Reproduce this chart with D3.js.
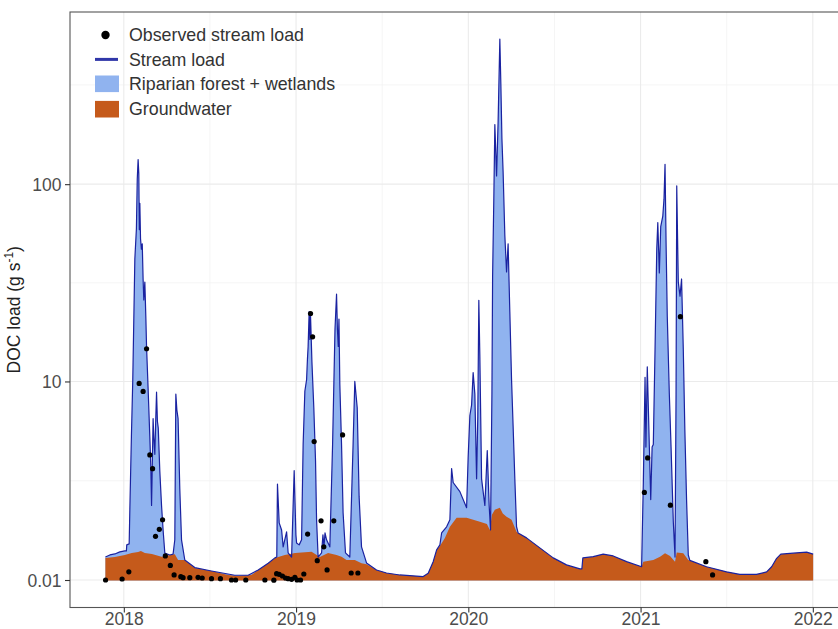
<!DOCTYPE html>
<html>
<head>
<meta charset="utf-8">
<script src="https://cdn.jsdelivr.net/npm/d3@7/dist/d3.min.js"></script>
<style>
  body { margin: 0; background: #fff; }
  svg text { font-family: "Liberation Sans", Arial, Helvetica, sans-serif; }
</style>
</head>
<body>
<div id="chart"></div>
<script>
// time in decimal years, loads in g/s

const streamYear = [2017.893, 2017.919, 2017.948, 2017.977, 2018.006, 2018.015, 2018.017, 2018.031, 2018.035, 2018.044,
  2018.052, 2018.064, 2018.073, 2018.078, 2018.083, 2018.087, 2018.09, 2018.093, 2018.097, 2018.102,
  2018.107, 2018.112, 2018.116, 2018.122, 2018.128, 2018.132, 2018.141, 2018.151, 2018.157, 2018.161,
  2018.165, 2018.17, 2018.174, 2018.18, 2018.186, 2018.19, 2018.195, 2018.2, 2018.209, 2018.219,
  2018.228, 2018.238, 2018.267, 2018.286, 2018.296, 2018.302, 2018.308, 2018.315, 2018.325, 2018.335,
  2018.354, 2018.412, 2018.509, 2018.644, 2018.722, 2018.78, 2018.838, 2018.877, 2018.888, 2018.892,
  2018.902, 2018.916, 2018.925, 2018.945, 2018.954, 2018.974, 2018.989, 2018.999, 2019.003, 2019.018,
  2019.032, 2019.041, 2019.051, 2019.061, 2019.066, 2019.07, 2019.076, 2019.08, 2019.084, 2019.092,
  2019.103, 2019.113, 2019.119, 2019.128, 2019.148, 2019.156, 2019.162, 2019.168, 2019.177, 2019.196,
  2019.212, 2019.226, 2019.235, 2019.24, 2019.245, 2019.249, 2019.254, 2019.264, 2019.273, 2019.287,
  2019.312, 2019.331, 2019.341, 2019.355, 2019.366, 2019.38, 2019.409, 2019.467, 2019.525, 2019.602,
  2019.738, 2019.767, 2019.796, 2019.816, 2019.835, 2019.845, 2019.874, 2019.893, 2019.903, 2019.912,
  2019.951, 2019.99, 2019.999, 2020.009, 2020.019, 2020.028, 2020.038, 2020.048, 2020.055, 2020.061,
  2020.067, 2020.077, 2020.096, 2020.11, 2020.121, 2020.129, 2020.137, 2020.141, 2020.148, 2020.154,
  2020.164, 2020.173, 2020.183, 2020.189, 2020.195, 2020.202, 2020.212, 2020.222, 2020.231, 2020.241,
  2020.251, 2020.26, 2020.27, 2020.28, 2020.289, 2020.338, 2020.415, 2020.493, 2020.57, 2020.648,
  2020.659, 2020.665, 2020.725, 2020.783, 2020.841, 2020.919, 2021.006, 2021.016, 2021.026, 2021.031,
  2021.039, 2021.051, 2021.059, 2021.067, 2021.074, 2021.084, 2021.094, 2021.1, 2021.109, 2021.117,
  2021.129, 2021.136, 2021.142, 2021.148, 2021.155, 2021.167, 2021.177, 2021.19, 2021.2, 2021.206,
  2021.21, 2021.219, 2021.229, 2021.238, 2021.248, 2021.257, 2021.267, 2021.277, 2021.286, 2021.383,
  2021.499, 2021.576, 2021.673, 2021.732, 2021.761, 2021.79, 2021.814, 2021.886, 2021.964, 2022.002];

const streamLoad = [0.553, 0.601, 0.625, 0.676, 0.70, 0.70, 0.85, 0.875, 1.84, 5.13,
  10.2, 41.9, 59.4, 106, 133, 113, 59, 80, 53, 47,
  50, 33, 26, 32, 21, 15, 9.2, 5.1, 3.4, 1.97,
  3.4, 6.4, 5.1, 4.1, 6.65, 8.8, 6.2, 5.7, 3.27, 1.97,
  1.24, 0.65, 0.60, 0.62, 0.98, 8.6, 7.1, 6.4, 2.55, 0.98,
  0.48, 0.30, 0.22, 0.12, 0.12, 0.244, 0.40, 0.53, 0.55, 2.74,
  1.44, 1.24, 0.80, 1.19, 0.65, 0.55, 3.3, 1.11, 0.9, 0.85,
  0.98, 4.65, 8.9, 10.2, 13, 15.1, 22.7, 16.4, 21.6, 12.6,
  7.3, 3.76, 1.53, 0.55, 0.65, 1.11, 0.80, 1.16, 0.98, 0.80,
  4.65, 18.5, 27.8, 18.5, 15.1, 20.8, 9.7, 4.65, 1.74, 0.65,
  0.55, 4.65, 10, 7.3, 2.27, 0.80, 0.41, 0.244, 0.173, 0.127,
  0.09, 0.167, 0.44, 0.725, 0.85, 1.16, 1.33, 1.53, 3.4, 2.8,
  2.45, 1.9, 3.92, 6.65, 7.55, 11.1, 8.6, 2.95, 6.6, 25.9,
  13.4, 2.95, 1.97, 4.3, 1.97, 1.24, 8.6, 34.5, 84, 200,
  110, 207, 540, 317, 170, 115, 55, 36, 50, 22.6,
  10.2, 5.85, 2.95, 1.33, 1.16, 1.03, 0.775, 0.53, 0.363, 0.268,
  0.268, 0.53, 0.56, 0.62, 0.577, 0.44, 0.32, 2.8, 10.5, 4.5,
  11.9, 4.5, 2.17, 4.5, 4.65, 14.6, 47, 64, 35.6, 61,
  69, 84, 126, 51, 21.5, 8.6, 4.5, 1.48, 0.55, 8.6,
  98, 32, 27.2, 33.2, 14.6, 5.6, 2.17, 0.6, 0.47, 0.32,
  0.20, 0.14, 0.14, 0.20, 0.32, 0.52, 0.62, 0.645, 0.67, 0.62];

const groundYear = [2017.893, 2017.948, 2018.006, 2018.046, 2018.083, 2018.099, 2018.122, 2018.163, 2018.219, 2018.267,
  2018.296, 2018.315, 2018.354, 2018.412, 2018.509, 2018.605, 2018.663, 2018.74, 2018.798, 2018.838,
  2018.877, 2018.935, 2018.994, 2019.09, 2019.138, 2019.186, 2019.235, 2019.264, 2019.293, 2019.341,
  2019.38, 2019.409, 2019.467, 2019.525, 2019.602, 2019.738, 2019.767, 2019.796, 2019.816, 2019.835,
  2019.864, 2019.893, 2019.932, 2019.99, 2020.067, 2020.108, 2020.125, 2020.137, 2020.154, 2020.183,
  2020.2, 2020.222, 2020.251, 2020.28, 2020.289, 2020.338, 2020.415, 2020.493, 2020.57, 2020.648,
  2020.659, 2020.665, 2020.725, 2020.783, 2020.841, 2020.919, 2021.006, 2021.016, 2021.074, 2021.113,
  2021.142, 2021.171, 2021.2, 2021.21, 2021.248, 2021.277, 2021.286, 2021.383, 2021.499, 2021.576,
  2021.673, 2021.732, 2021.761, 2021.79, 2021.814, 2021.886, 2021.964, 2022.002];

const groundLoad = [0.53, 0.553, 0.60, 0.65, 0.676, 0.70, 0.65, 0.625, 0.56, 0.60,
  0.62, 0.48, 0.48, 0.29, 0.22, 0.127, 0.105, 0.127, 0.29, 0.40,
  0.53, 0.60, 0.65, 0.68, 0.55, 0.65, 0.60, 0.56, 0.48, 0.48,
  0.40, 0.38, 0.244, 0.173, 0.127, 0.09, 0.167, 0.44, 0.725, 0.82,
  1.03, 1.33, 1.59, 1.59, 1.47, 1.41, 1.24, 1.68, 1.835, 1.9,
  1.72, 1.62, 1.53, 1.19, 1.16, 1.03, 0.775, 0.53, 0.363, 0.268,
  0.268, 0.53, 0.56, 0.62, 0.577, 0.44, 0.32, 0.44, 0.48, 0.56,
  0.645, 0.577, 0.44, 0.66, 0.645, 0.48, 0.47, 0.32, 0.20, 0.14,
  0.14, 0.20, 0.32, 0.52, 0.62, 0.645, 0.67, 0.62];

const obsYear = [2017.894, 2017.99, 2018.029, 2018.089, 2018.112, 2018.132, 2018.151, 2018.167, 2018.184, 2018.206,
  2018.225, 2018.241, 2018.27, 2018.292, 2018.331, 2018.344, 2018.383, 2018.431, 2018.455, 2018.509,
  2018.561, 2018.625, 2018.649, 2018.708, 2018.819, 2018.871, 2018.887, 2018.902, 2018.921, 2018.939,
  2018.954, 2018.974, 2018.993, 2019.006, 2019.026, 2019.045, 2019.067, 2019.084, 2019.096, 2019.105,
  2019.123, 2019.145, 2019.161, 2019.18, 2019.219, 2019.27, 2019.32, 2019.359,
  2021.022, 2021.041, 2021.173, 2021.231, 2021.379, 2021.418];

const obsLoad = [0.01, 0.033, 0.20, 9.77, 8.88, 14.7, 4.07, 3.39, 1.07, 1.26,
  1.53, 0.577, 0.35, 0.127, 0.087, 0.064, 0.064, 0.073, 0.057, 0.04,
  0.04, 0.01, 0.01, 0.01, 0.01, 0.005, 0.157, 0.143, 0.103, 0.057,
  0.04, 0.026, 0.073, 0.01, 0.01, 0.15, 1.13, 22.2, 16.9, 4.82,
  0.464, 1.50, 0.80, 0.244, 1.50, 5.24, 0.173, 0.173,
  2.42, 3.91, 1.98, 21.4, 0.44, 0.127];

const yBreaks = [0.01, 10, 100];
const xBreaks = [2018, 2019, 2020, 2021, 2022];
const legendLabels = ["Observed stream load", "Stream load", "Riparian forest + wetlands", "Groundwater"];

const colors = { riparian: "#90b3ef", ground: "#c55a1b", line: "#1a22a0", obs: "#000" };

const W = 838, H = 629;
const panel = { left: 70, top: 12, bottom: 607.5 };

// pseudo-log transform (asinh), like ggplot's pseudo_log_trans
const tr = v => Math.asinh(v / 2);

const svg = d3.select("#chart").append("svg").attr("width", W).attr("height", H);

const stream = streamYear.map((t, i) => [t, streamLoad[i]]);
const ground = groundYear.map((t, i) => [t, groundLoad[i]]);
const obs = obsYear.map((t, i) => [t, obsLoad[i]]);

// expanded domains (5%), panel runs past the right edge of the picture
const xExt = d3.extent(streamYear.concat(obsYear));
const xPad = (xExt[1] - xExt[0]) * 0.05;
const x = d3.scaleLinear().domain([xExt[0] - xPad, xExt[1] + xPad])
  .range([panel.left, panel.left + 172.25 * (xExt[1] - xExt[0] + 2 * xPad)]);
const panelRight = x.range()[1];

const tMax = tr(d3.max(streamLoad.concat(obsLoad)));
const tPad = tMax * 0.05;
const yT = d3.scaleLinear().domain([-tPad, tMax + tPad]).range([panel.bottom, panel.top]);
const y = v => yT(tr(v));

// grid
const grid = svg.append("g");
const yMajor = yBreaks.map(tr);
const yMinor = [];
const step = yMajor[1] - yMajor[0];
const yAll = [yMajor[0] - step].concat(yMajor, [yMajor[yMajor.length - 1] + step]);
for (let i = 0; i < yAll.length - 1; i++) yMinor.push((yAll[i] + yAll[i + 1]) / 2);
const xMinor = [];
for (let i = 0; i < xBreaks.length - 1; i++) xMinor.push((xBreaks[i] + xBreaks[i + 1]) / 2);
xMinor.unshift(xBreaks[0] - 0.5);

grid.selectAll("line.ymin").data(yMinor.filter(t => yT(t) > panel.top && yT(t) < panel.bottom)).join("line")
  .attr("x1", panel.left).attr("x2", panelRight).attr("y1", d => yT(d)).attr("y2", d => yT(d))
  .attr("stroke", "#f2f2f2").attr("stroke-width", 0.8);
grid.selectAll("line.xmin").data(xMinor.filter(t => x(t) > panel.left)).join("line")
  .attr("x1", d => x(d)).attr("x2", d => x(d)).attr("y1", panel.top).attr("y2", panel.bottom)
  .attr("stroke", "#f2f2f2").attr("stroke-width", 0.8);
grid.selectAll("line.ymaj").data(yMajor).join("line")
  .attr("x1", panel.left).attr("x2", panelRight).attr("y1", d => yT(d)).attr("y2", d => yT(d))
  .attr("stroke", "#ebebeb").attr("stroke-width", 1.1);
grid.selectAll("line.xmaj").data(xBreaks).join("line")
  .attr("x1", d => x(d)).attr("x2", d => x(d)).attr("y1", panel.top).attr("y2", panel.bottom)
  .attr("stroke", "#ebebeb").attr("stroke-width", 1.1);

svg.append("defs").append("clipPath").attr("id", "clip")
  .append("rect").attr("x", panel.left).attr("y", panel.top)
  .attr("width", panelRight - panel.left).attr("height", panel.bottom - panel.top);

const plot = svg.append("g").attr("clip-path", "url(#clip)");

const area = d3.area().x(d => x(d[0])).y0(y(0)).y1(d => y(d[1]));
const line = d3.line().x(d => x(d[0])).y(d => y(d[1]));

plot.append("path").datum(stream).attr("d", area).attr("fill", colors.riparian);
plot.append("path").datum(ground).attr("d", area).attr("fill", colors.ground);
plot.append("path").datum(stream).attr("d", line).attr("fill", "none")
  .attr("stroke", colors.line).attr("stroke-width", 1.2).attr("stroke-linejoin", "round");
plot.selectAll("circle").data(obs).join("circle")
  .attr("cx", d => x(d[0])).attr("cy", d => y(d[1])).attr("r", 2.6).attr("fill", colors.obs);

// panel border
svg.append("rect").attr("x", panel.left).attr("y", panel.top)
  .attr("width", panelRight - panel.left).attr("height", panel.bottom - panel.top)
  .attr("fill", "none").attr("stroke", "#555").attr("stroke-width", 1.1);

// axes
const yAxis = d3.axisLeft(yT).tickValues(yMajor).tickSize(5).tickSizeOuter(0)
  .tickFormat((d, i) => String(yBreaks[i]));
const gy = svg.append("g").attr("transform", `translate(${panel.left},0)`).call(yAxis);
const xAxis = d3.axisBottom(x).tickValues(xBreaks).tickSize(5).tickSizeOuter(0).tickFormat(d3.format("d"));
const gx = svg.append("g").attr("transform", `translate(0,${panel.bottom})`).call(xAxis);
[gx, gy].forEach(g => {
  g.select(".domain").remove();
  g.selectAll(".tick line").attr("stroke", "#333").attr("stroke-width", 1.1);
  g.selectAll(".tick text").attr("fill", "#4d4d4d").attr("font-size", 17.5);
});
gy.selectAll(".tick text").attr("x", -8.5).attr("dy", "0.35em");
gx.selectAll(".tick text").attr("y", 5.5).attr("dy", "0.71em");

// y title
const yTitle = svg.append("text").attr("transform", `translate(20,${(panel.top + panel.bottom) / 2}) rotate(-90)`)
  .attr("text-anchor", "middle").attr("font-size", 17.5).attr("fill", "#222");
yTitle.append("tspan").text("DOC load (g s");
yTitle.append("tspan").attr("font-size", 12).attr("dy", -7).text("-1");
yTitle.append("tspan").attr("dy", 7).text(")");

// legend
const lg = svg.append("g").attr("transform", "translate(95,35)");
const rowH = 24.4;
const items = lg.selectAll("g").data(legendLabels).join("g")
  .attr("transform", (d, i) => `translate(0,${i * rowH + (i === 3 ? 1 : 0)})`);
items.append("text").attr("x", 34).attr("dy", "0.35em").attr("font-size", 17.8).attr("fill", "#333").text(d => d);
items.filter((d, i) => i === 0).append("circle").attr("cx", 10.5).attr("r", 4.2).attr("fill", colors.obs);
items.filter((d, i) => i === 1).append("line").attr("x1", 0).attr("x2", 23).attr("stroke", colors.line)
  .attr("stroke-width", 3).attr("opacity", 0.9);
items.filter((d, i) => i === 2).append("rect").attr("x", 0).attr("y", -8.3).attr("width", 24).attr("height", 16.6)
  .attr("fill", colors.riparian);
items.filter((d, i) => i === 3).append("rect").attr("x", 0).attr("y", -8.3).attr("width", 24).attr("height", 16.6)
  .attr("fill", colors.ground);
</script>
</body>
</html>
